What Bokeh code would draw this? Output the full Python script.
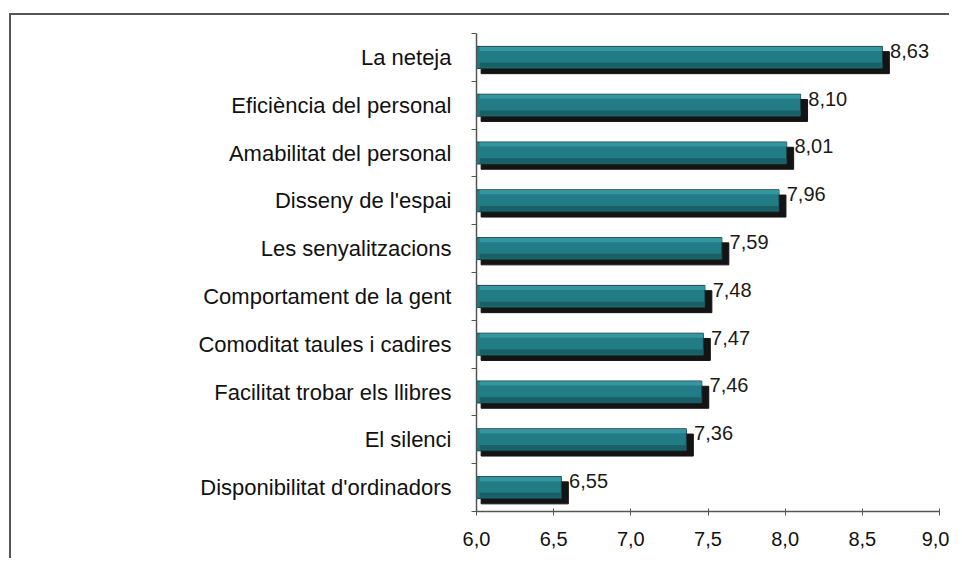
from bokeh.plotting import figure
from bokeh.models import ColumnDataSource, FixedTicker, CustomJSTickFormatter, Range1d
from bokeh.embed import file_html
from bokeh.resources import INLINE
from bokeh.core.properties import value

categories = ["La neteja", "Eficiència del personal", "Amabilitat del personal",
              "Disseny de l'espai", "Les senyalitzacions", "Comportament de la gent",
              "Comoditat taules i cadires", "Facilitat trobar els llibres",
              "El silenci", "Disponibilitat d'ordinadors"]
scores = [8.63, 8.10, 8.01, 7.96, 7.59, 7.48, 7.47, 7.46, 7.36, 6.55]
x_ticks = [6.0, 6.5, 7.0, 7.5, 8.0, 8.5, 9.0]

n = len(categories)
ypos = [n - 1 - i for i in range(n)]
dx = 0.045   # depth offset (x)
dy = 0.11    # depth offset (y)
h = 0.46

src = ColumnDataSource(dict(
    y=ypos,
    v=scores,
    vs=[s + dx for s in scores],
    ys=[y - dy for y in ypos],
    yt=[y + h / 2 - 0.05 for y in ypos],
    yb=[y - h / 2 + 0.07 for y in ypos],
    ylab=[y + 0.14 for y in ypos],
    xlab=[s + dx + 0.005 for s in scores],
    lab=[f"{s:.2f}".replace(".", ",") for s in scores],
))

p = figure(width=940, height=545, output_backend="svg", toolbar_location=None,
           x_range=Range1d(6.0, 9.0), y_range=Range1d(-0.5, n - 0.5),
           min_border_left=465, min_border_right=12, min_border_top=18, min_border_bottom=49,
           styles={"margin-left": "9px", "margin-top": "13px",
                   "border-left": "2px solid #555555", "border-top": "2px solid #555555"})
p.outline_line_color = None
p.grid.grid_line_color = None
p.background_fill_color = "white"

# shadow (depth) bar
p.hbar(y="ys", left=6.0 + 0.03, right="vs", height=h, source=src,
       fill_color="#141414", line_color="#141414")
# front face
p.hbar(y="y", left=6.0, right="v", height=h, source=src,
       fill_color="#217c86", line_color="#1a3c40", line_width=1)
# highlight strip
p.hbar(y="yt", left=6.02, right="v", height=0.09, source=src,
       fill_color="#3a9ca6", line_color=None, fill_alpha=0.8)
# darker lower strip
p.hbar(y="yb", left=6.02, right="v", height=0.1, source=src,
       fill_color="#185c63", line_color=None, fill_alpha=0.9)

p.text(x="xlab", y="ylab", text="lab", source=src, text_font=value("Liberation Sans"),
       text_font_size="20px", text_color="#1a1a1a", text_baseline="middle", text_align="left")

# y axis
p.yaxis.ticker = FixedTicker(ticks=ypos, minor_ticks=[y + 0.5 for y in range(-1, n)])
p.yaxis.major_label_overrides = {y: c for y, c in zip(ypos, categories)}
p.yaxis.major_tick_out = 0
p.yaxis.major_tick_in = 0
p.yaxis.minor_tick_out = 5
p.yaxis.minor_tick_in = 0
p.yaxis.major_label_standoff = 20
p.yaxis.major_label_text_font = "Liberation Sans"
p.yaxis.major_label_text_font_size = "22px"
p.yaxis.major_label_text_color = "#111111"
p.yaxis.axis_line_color = "#555555"
p.yaxis.axis_line_width = 1.5
p.yaxis.minor_tick_line_color = "#555555"

# x axis
p.xaxis.ticker = FixedTicker(ticks=x_ticks, minor_ticks=[])
p.xaxis.formatter = CustomJSTickFormatter(code="return tick.toFixed(1).replace('.', ',');")
p.xaxis.major_tick_in = 3
p.xaxis.major_tick_out = 4
p.xaxis.major_label_standoff = 16
p.xaxis.major_label_text_font = "Liberation Sans"
p.xaxis.major_label_text_font_size = "20px"
p.xaxis.major_label_text_color = "#111111"
p.xaxis.axis_line_color = "#555555"
p.xaxis.axis_line_width = 1.5
p.xaxis.major_tick_line_color = "#555555"

open("out.html", "w").write(file_html(p, INLINE))
